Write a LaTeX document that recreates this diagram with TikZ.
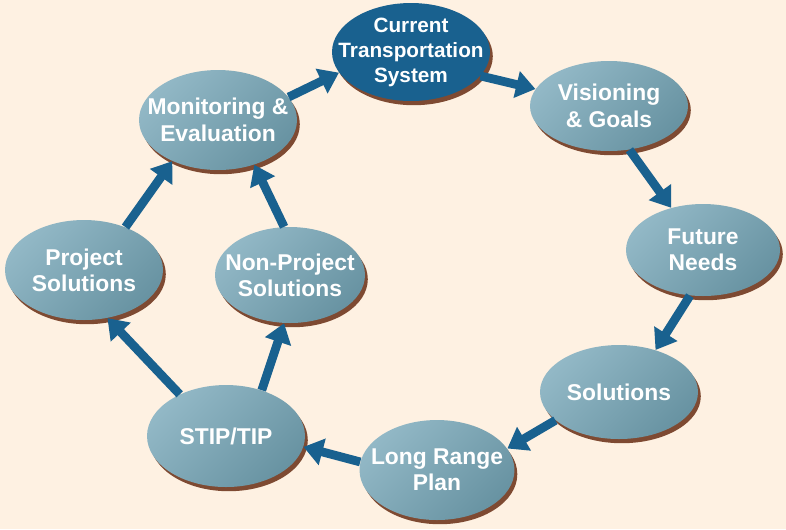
\documentclass[tikz,border=0pt]{standalone}
\usepackage{fontspec}
\setmainfont{Liberation Sans}
\usetikzlibrary{arrows.meta,shapes.geometric,shadows}
\definecolor{bgpeach}{HTML}{FEF1E2}
\definecolor{ovallight}{HTML}{92B8C6}
\definecolor{ovaldark}{HTML}{6893A2}
\definecolor{ovalshadow}{HTML}{7E4A32}
\definecolor{flowblue}{HTML}{19618F}

\begin{document}
\begin{tikzpicture}[
  x=0.02cm, y=-0.02cm,
  > = {Triangle[width=15pt,length=11pt]},
  oval/.style = {ellipse, inner xsep=-14pt, inner ysep=-12pt, minimum width=3.16cm, minimum height=1.96cm,
    align=center, text=white, font=\fontsize{13}{15}\selectfont\bfseries,
    general shadow={fill=ovalshadow, shadow xshift=1.6pt, shadow yshift=-2.4pt}},
  stage/.style = {oval, top color=ovallight, bottom color=ovaldark, shading angle=45},
  current/.style = {oval, fill=flowblue, font=\fontsize{11.8}{14.2}\selectfont\bfseries},
  flow/.style = {->, line width=5pt, draw=flowblue, fill=flowblue}
  ]
	\fill[bgpeach] (0,0) rectangle (786,529);
	\useasboundingbox (0,0) rectangle (786,529);

	\coordinate (@cur) at (411,52);
	\coordinate (@vis) at (609,106);
	\coordinate (@fut) at (703,250);
	\coordinate (@sol) at (619,392);
	\coordinate (@lrp) at (437,470);
	\coordinate (@stip) at (226,436);
	\coordinate (@proj) at (84,270);
	\coordinate (@nonp) at (290,275);
	\coordinate (@mon) at (218,120);

	\node[current] (cur) at (@cur) {Current\\Transportation\\System};
	\node[stage, minimum height=1.8cm] (vis) at (@vis) {Visioning\\\& Goals};
	\node[stage, minimum width=3.08cm, minimum height=1.84cm] (fut) at (@fut) {Future\\Needs};
	\node[stage, minimum height=1.88cm] (sol) at (@sol) {Solutions};
	\node[stage, minimum width=3.1cm, minimum height=2.0cm] (lrp) at (@lrp) {Long Range\\Plan};
	\node[stage, minimum height=2.04cm] (stip) at (@stip) {STIP/TIP};
	\node[stage, minimum height=2.0cm] (proj) at (@proj) {Project\\Solutions};
	\node[stage, minimum width=3.0cm, minimum height=1.92cm] (nonp) at (@nonp) {Non-Project\\Solutions};
	\node[stage, minimum height=2.0cm] (mon) at (@mon) {Monitoring \&\\Evaluation};

	\draw[flow] (mon.18) -- (cur.196);
	\draw[flow] (cur.341) -- (vis.167);
	\draw[flow] (vis.295) -- (fut.127);
	\draw[flow] (fut.254) -- (sol.49);
	\draw[flow] (sol.204) -- (lrp.17);
	\draw[flow] (lrp.174) -- (stip.352);
	\draw[flow] (stip.138) -- (proj.296);
	\draw[flow] (stip.52) -- (nonp.263);
	\draw[flow] (proj.46) -- (mon.222);
	\draw[flow] (nonp.97) -- (mon.309);

\end{tikzpicture}
\end{document}
